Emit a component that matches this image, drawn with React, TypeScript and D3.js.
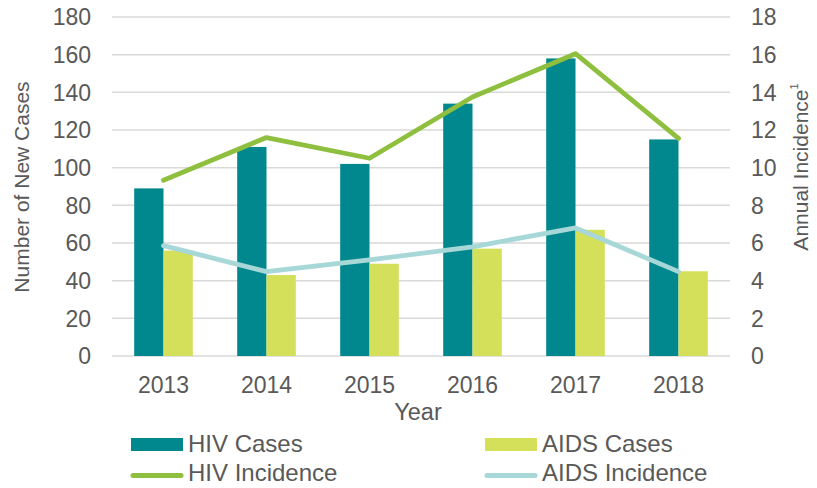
import React from "react";
import * as d3 from "d3";

const years = ["2013", "2014", "2015", "2016", "2017", "2018"];
const hivCases = [89, 111, 102, 134, 158, 115];
const aidsCases = [56, 43, 49, 57, 67, 45];
const hivIncidence = [9.33, 11.6, 10.5, 13.75, 16.05, 11.55];
const aidsIncidence = [5.86, 4.48, 5.1, 5.8, 6.8, 4.48];
const leftTicks = [0, 20, 40, 60, 80, 100, 120, 140, 160, 180];
const rightTicks = [0, 2, 4, 6, 8, 10, 12, 14, 16, 18];

const W = 817;
const H = 488;
const plot = { left: 112, right: 730, top: 17, bottom: 356 };
const C = {
  hiv: "#00888e",
  aids: "#d4df5a",
  hivInc: "#8fbf3e",
  aidsInc: "#a8d7d8",
  text: "#595959",
  grid: "#d9d9d9",
};
const FONT = "'Liberation Sans', Arial, sans-serif";

export default function App() {
  const x = d3
    .scaleBand<string>()
    .domain(years)
    .range([plot.left, plot.right])
    .paddingInner(0.431)
    .paddingOuter(0.2155);
  const x1 = d3
    .scaleBand<string>()
    .domain(["hiv", "aids"])
    .range([0, x.bandwidth()]);
  const yL = d3.scaleLinear().domain([0, 180]).range([plot.bottom, plot.top]);
  const yR = d3.scaleLinear().domain([0, 18]).range([plot.bottom, plot.top]);
  const cx = (y: string) => (x(y) as number) + x.bandwidth() / 2;

  const line = (vals: number[]) =>
    d3
      .line<number>()
      .x((_, i) => cx(years[i]))
      .y((d) => yR(d))(vals) as string;

  return (
    <svg
      width={W}
      height={H}
      style={{ position: "absolute", left: 0, top: 0, background: "#fff" }}
      fontFamily={FONT}
    >
      {leftTicks.map((t) => (
        <line
          key={"g" + t}
          x1={plot.left}
          x2={plot.right}
          y1={yL(t)}
          y2={yL(t)}
          stroke={C.grid}
          strokeWidth={1.5}
        />
      ))}
      {leftTicks.map((t) => (
        <text
          key={"l" + t}
          x={91}
          y={yL(t)}
          dy="0.36em"
          textAnchor="end"
          fontSize={23}
          fill={C.text}
        >
          {t}
        </text>
      ))}
      {rightTicks.map((t) => (
        <text
          key={"r" + t}
          x={751}
          y={yR(t)}
          dy="0.36em"
          textAnchor="start"
          fontSize={23}
          fill={C.text}
        >
          {t}
        </text>
      ))}
      {years.map((yr, i) => (
        <g key={yr}>
          <rect
            x={(x(yr) as number) + (x1("hiv") as number)}
            y={yL(hivCases[i])}
            width={x1.bandwidth()}
            height={plot.bottom - yL(hivCases[i])}
            fill={C.hiv}
          />
          <rect
            x={(x(yr) as number) + (x1("aids") as number)}
            y={yL(aidsCases[i])}
            width={x1.bandwidth()}
            height={plot.bottom - yL(aidsCases[i])}
            fill={C.aids}
          />
          <text
            x={cx(yr)}
            y={385}
            dy="0.36em"
            textAnchor="middle"
            fontSize={23}
            fill={C.text}
          >
            {yr}
          </text>
        </g>
      ))}
      <path
        d={line(hivIncidence)}
        fill="none"
        stroke={C.hivInc}
        strokeWidth={4.8}
        strokeLinecap="round"
        strokeLinejoin="round"
      />
      <path
        d={line(aidsIncidence)}
        fill="none"
        stroke={C.aidsInc}
        strokeWidth={4.8}
        strokeLinecap="round"
        strokeLinejoin="round"
      />
      <text
        x={418}
        y={412}
        dy="0.36em"
        textAnchor="middle"
        fontSize={23.5}
        fill={C.text}
      >
        Year
      </text>
      <text
        transform="translate(21,187) rotate(-90)"
        dy="0.36em"
        textAnchor="middle"
        fontSize={21}
        fill={C.text}
      >
        Number of New Cases
      </text>
      <text
        transform="translate(800,167) rotate(-90)"
        dy="0.36em"
        textAnchor="middle"
        fontSize={21}
        fill={C.text}
      >
        Annual Incidence
        <tspan fontSize={11} dy="-0.9em">
          1
        </tspan>
      </text>
      {/* legend */}
      <g fontSize={24} fill={C.text}>
        <rect x={131} y={438} width={52} height={13} fill={C.hiv} />
        <text x={188} y={452}>HIV Cases</text>
        <rect x={485} y={438} width={52} height={13} fill={C.aids} />
        <text x={542} y={452}>AIDS Cases</text>
        <line
          x1={133}
          x2={181}
          y1={475.5}
          y2={475.5}
          stroke={C.hivInc}
          strokeWidth={5}
          strokeLinecap="round"
        />
        <text x={188} y={480.5}>HIV Incidence</text>
        <line
          x1={487}
          x2={535}
          y1={475.5}
          y2={475.5}
          stroke={C.aidsInc}
          strokeWidth={5}
          strokeLinecap="round"
        />
        <text x={542} y={480.5}>AIDS Incidence</text>
      </g>
    </svg>
  );
}
